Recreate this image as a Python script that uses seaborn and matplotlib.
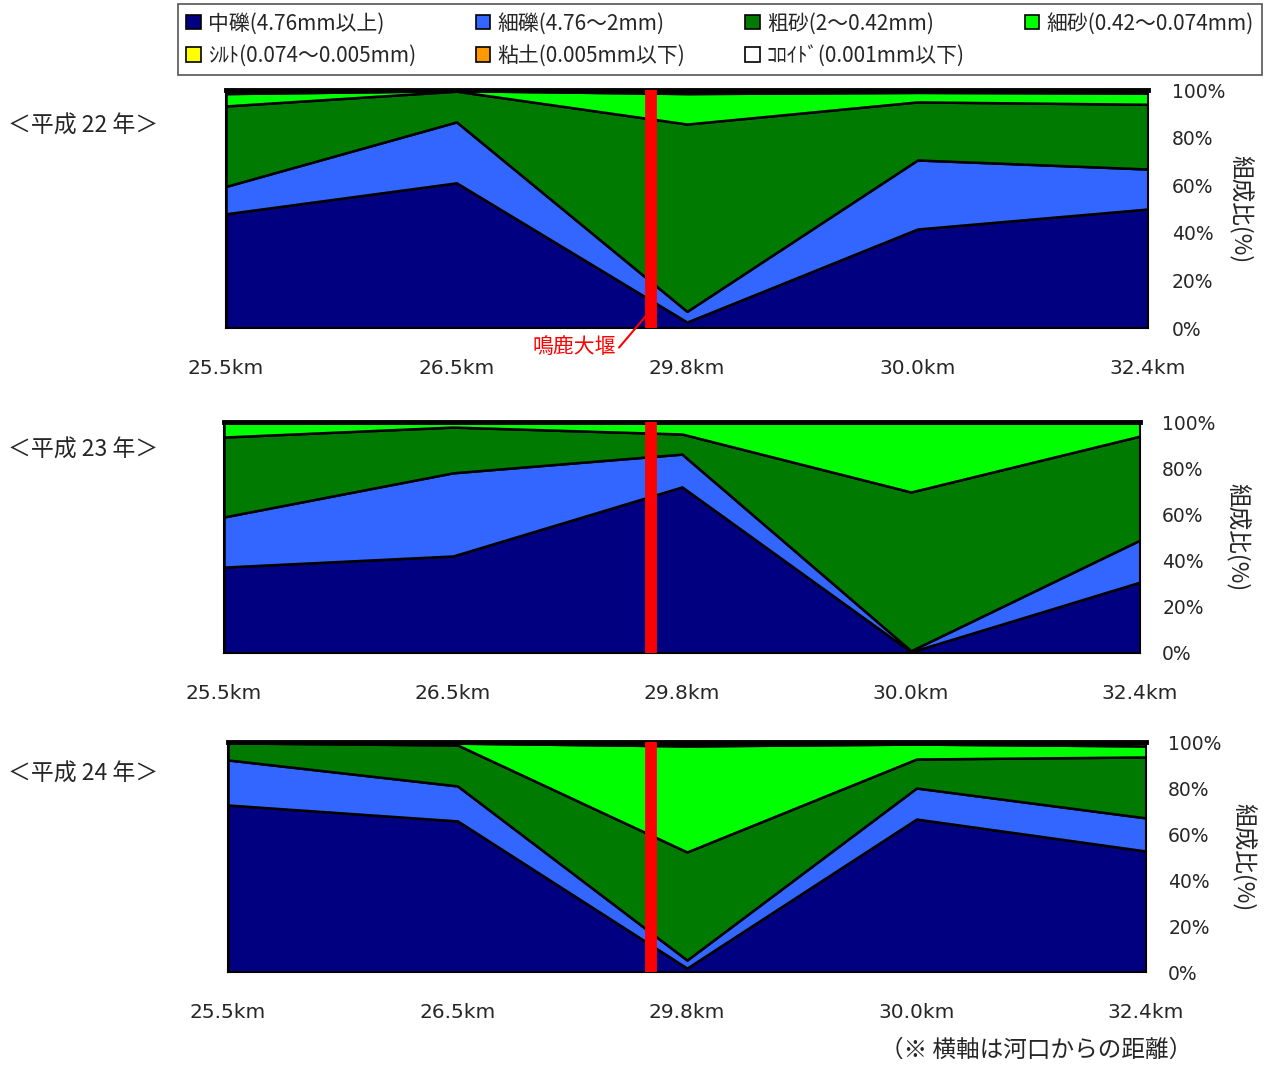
import matplotlib
matplotlib.use("Agg")
import matplotlib.pyplot as plt
from matplotlib.patches import Patch
import seaborn as sns

sns.set_theme(style="white")
plt.rcParams['font.family'] = ['Noto Sans CJK JP', 'DejaVu Sans']

# ---- data ----
distances = ["25.5km", "26.5km", "29.8km", "30.0km", "32.4km"]
years = ["＜平成 22 年＞", "＜平成 23 年＞", "＜平成 24 年＞"]
categories = ["中礫(4.76mm以上)", "細礫(4.76～2mm)", "粗砂(2～0.42mm)", "細砂(0.42～0.074mm)",
              "ｼﾙﾄ(0.074～0.005mm)", "粘土(0.005mm以下)", "ｺﾛｲﾄﾞ(0.001mm以下)"]
colors = ["#000080", "#3366FF", "#007A00", "#00FF00", "#FFFF00", "#FF9900", "#FFFFFF"]

# H22
h22_medium_gravel = [48.0, 61.0, 2.5, 41.6, 50.0]
h22_fine_gravel = [11.5, 25.6, 4.5, 29.0, 16.8]
h22_coarse_sand = [33.8, 12.9, 78.7, 24.4, 27.2]
h22_fine_sand = [5.2, 0.2, 12.8, 4.0, 4.7]
h22_silt = [1.0, 0.2, 1.0, 0.7, 1.0]
h22_clay = [0.5, 0.1, 0.5, 0.3, 0.3]
h22_colloid = [0.0, 0.0, 0.0, 0.0, 0.0]

# H23
h23_medium_gravel = [37.2, 42.0, 71.9, 0.5, 30.7]
h23_fine_gravel = [21.7, 36.0, 14.2, 0.5, 18.2]
h23_coarse_sand = [34.6, 19.8, 8.7, 68.7, 45.0]
h23_fine_sand = [6.0, 1.9, 4.7, 29.8, 5.6]
h23_silt = [0.4, 0.2, 0.4, 0.4, 0.4]
h23_clay = [0.1, 0.1, 0.1, 0.1, 0.1]
h23_colloid = [0.0, 0.0, 0.0, 0.0, 0.0]

# H24
h24_medium_gravel = [72.6, 65.7, 1.7, 66.5, 52.6]
h24_fine_gravel = [19.6, 15.2, 3.5, 13.5, 14.4]
h24_coarse_sand = [7.4, 17.8, 47.0, 12.6, 26.5]
h24_fine_sand = [0.1, 0.8, 46.1, 6.5, 4.8]
h24_silt = [0.2, 0.3, 1.0, 0.6, 1.2]
h24_clay = [0.1, 0.2, 0.7, 0.3, 0.5]
h24_colloid = [0.0, 0.0, 0.0, 0.0, 0.0]

# 鳴鹿大堰 position (between 26.5km and 29.8km) in each panel
weir_positions = [1.845, 1.865, 1.843]

panels = [
    [h22_medium_gravel, h22_fine_gravel, h22_coarse_sand, h22_fine_sand, h22_silt, h22_clay, h22_colloid],
    [h23_medium_gravel, h23_fine_gravel, h23_coarse_sand, h23_fine_sand, h23_silt, h23_clay, h23_colloid],
    [h24_medium_gravel, h24_fine_gravel, h24_coarse_sand, h24_fine_sand, h24_silt, h24_clay, h24_colloid],
]

W, H = 1264, 1066
fig = plt.figure(figsize=(W / 100, H / 100), dpi=100)

# axes boxes in pixels: left, right, top, bottom
boxes = [(226, 1148, 90, 328), (224, 1140, 422, 653), (228, 1146, 742, 972)]
year_y = [126, 450, 774]
ypads = [17, 16, 16]
label_x = [1240, 1237, 1243]

latin = ['DejaVu Sans']
x = list(range(len(distances)))
for i, (series, (l, r, t, b)) in enumerate(zip(panels, boxes)):
    ax = fig.add_axes([l / W, 1 - b / H, (r - l) / W, (b - t) / H])
    ax.stackplot(x, *series, colors=colors, edgecolor="black", linewidth=1.8)
    ax.set_xlim(0, len(distances) - 1)
    ax.set_ylim(0, 100)
    ax.set_xticks(x)
    ax.set_xticklabels(distances, fontsize=14.5, family=latin)
    ax.tick_params(axis='x', direction='in', length=5, pad=22, bottom=True, color='black')
    ax.set_yticks([0, 20, 40, 60, 80, 100])
    ax.yaxis.tick_right()
    ax.set_yticklabels([f"{v}%" for v in [0, 20, 40, 60, 80, 100]], fontsize=13.5,
                       family=latin)
    ax.tick_params(axis='y', which='both', right=False, left=True, labelleft=False,
                   labelright=True, direction='in', length=8, pad=ypads[i], color='black')
    ax.yaxis.set_label_position("right")
    ax.set_ylabel("組成比(%)", rotation=-90, fontsize=17, va='center', ha='center')
    ax.yaxis.set_label_coords((label_x[i] - l) / (r - l), 0.5)
    for s in ax.spines.values():
        s.set_color('black')
        s.set_linewidth(1.5)
    ax.spines['top'].set_linewidth(3.5)
    ax.axvline(weir_positions[i], color="#FF0000", lw=8.5, zorder=5)
    fig.text(8 / W, 1 - year_y[i] / H, years[i], fontsize=16.5, va='center', ha='left')
    if i == 0:
        ax.annotate("鳴鹿大堰", xy=(weir_positions[i] - 0.015, 6), xytext=(1.51, -8),
                    textcoords='data', color='#FF0000', fontsize=15,
                    ha='center', va='center', annotation_clip=False,
                    arrowprops=dict(arrowstyle='-', color='#FF0000', lw=1.5,
                                    relpos=(1.0, 0.3), shrinkA=0, shrinkB=0))

# legend (row-major layout)
handles = [Patch(facecolor=c, edgecolor='black', linewidth=1.2) for c in colors]
order = [0, 4, 1, 5, 2, 6, 3]
leg = fig.legend([handles[k] for k in order], [categories[k] for k in order],
                 ncol=4, loc='upper left',
                 bbox_to_anchor=(178 / W, 1 - 72 / H, (1262 - 178) / W, 68 / H),
                 mode='expand', fontsize=15, frameon=True, fancybox=False, framealpha=1,
                 handlelength=0.7, handleheight=0.7, handletextpad=0.35,
                 borderpad=0.4, labelspacing=0.5, borderaxespad=0)
leg.get_frame().set_edgecolor('#555555')
leg.get_frame().set_linewidth(1.2)

fig.text(1192 / W, 1 - 1050 / H, "（※ 横軸は河口からの距離）", fontsize=17,
         ha='right', va='center')

fig.savefig("out.png", dpi=100)
